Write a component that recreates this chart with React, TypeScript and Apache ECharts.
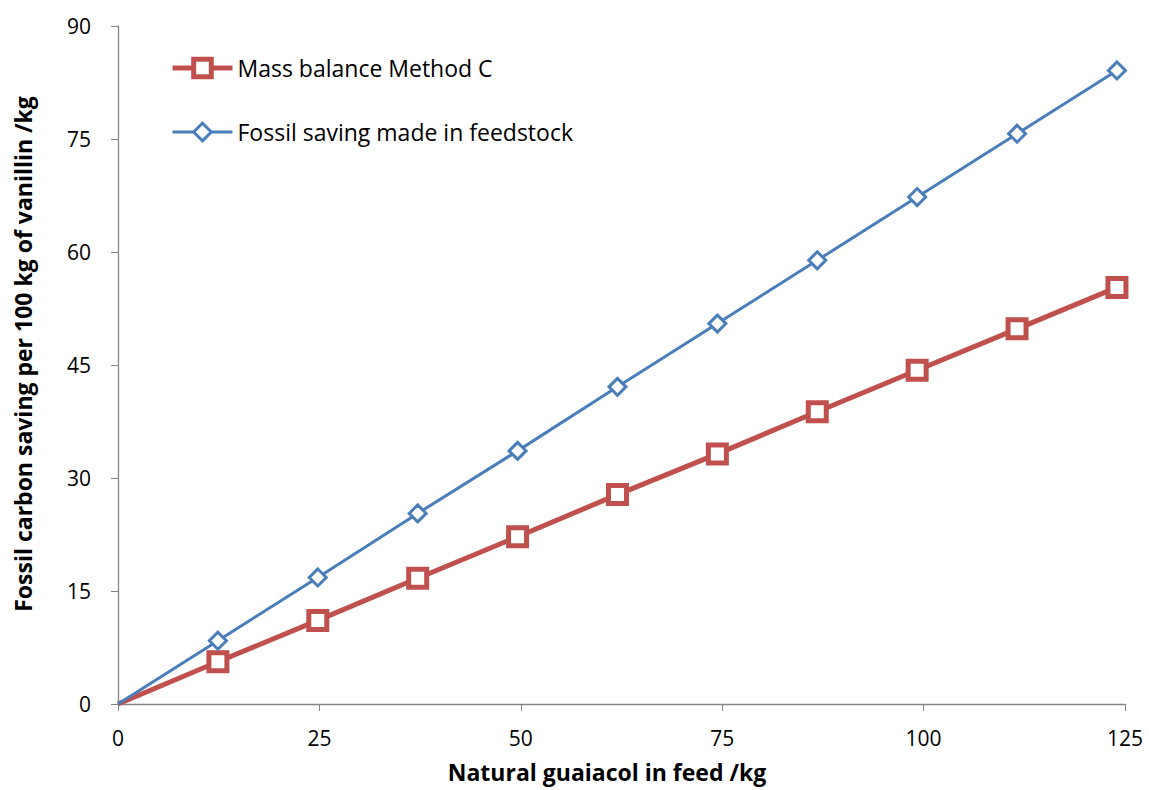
import React, { useEffect, useRef } from "react";
import * as echarts from "echarts";

const xValues = [0, 12.4, 24.8, 37.2, 49.6, 62, 74.4, 86.8, 99.2, 111.6, 124];
const massBalance = [0, 5.6, 11.1, 16.7, 22.2, 27.8, 33.2, 38.8, 44.3, 49.8, 55.3];
const fossilSaving = [0, 8.4, 16.8, 25.3, 33.6, 42.1, 50.5, 58.9, 67.3, 75.7, 84.1];
const seriesNames = ["Mass balance Method C", "Fossil saving made in feedstock"];
const xTitle = "Natural guaiacol in feed /kg";
const yTitle = "Fossil carbon saving per 100 kg of vanillin /kg";

const FONT = "Open Sans";
const RED = "#C0504D";
const BLUE = "#4A7EBB";

function toData(ys: number[]) {
  return xValues.map((x, i) =>
    x === 0 ? { value: [x, ys[i]], symbol: "none" } : { value: [x, ys[i]] }
  );
}

export default function App() {
  const ref = useRef<HTMLDivElement>(null);
  useEffect(() => {
    if (!ref.current) return;
    const chart = echarts.init(ref.current, null, { renderer: "svg" });
    const axisLine = { show: true, lineStyle: { color: "#868686", width: 1.3 } };
    chart.setOption({
      animation: false,
      backgroundColor: "#ffffff",
      grid: { left: 118, right: 24, top: 26, bottom: 86, containLabel: false },
      legend: {
        orient: "vertical",
        left: 170,
        top: 56,
        padding: 0,
        itemGap: 40,
        itemWidth: 60,
        itemHeight: 22,
        textStyle: { fontFamily: FONT, fontSize: 23, color: "#000", lineHeight: 24 },
        data: [
          {
            name: seriesNames[0],
            itemStyle: { color: "#fff", borderColor: RED, borderWidth: 5 },
            lineStyle: { color: RED, width: 5 },
          },
          {
            name: seriesNames[1],
            itemStyle: { color: "#fff", borderColor: BLUE, borderWidth: 3 },
            lineStyle: { color: BLUE, width: 3 },
          },
        ],
      },
      graphic: [
        {
          type: "text",
          x: 607,
          y: 772,
          style: {
            text: xTitle,
            font: `bold 23px "${FONT}"`,
            fill: "#000",
            align: "center",
            verticalAlign: "middle",
          },
        },
        {
          type: "text",
          x: 23,
          y: 354,
          rotation: Math.PI / 2,
          style: {
            text: yTitle,
            font: `bold 23px "${FONT}"`,
            fill: "#000",
            align: "center",
            verticalAlign: "middle",
          },
        },
      ],
      xAxis: {
        type: "value",
        min: 0,
        max: 125,
        interval: 25,
        axisLine,
        axisTick: { show: true, length: 7, lineStyle: { color: "#868686" } },
        axisLabel: { fontFamily: FONT, fontSize: 21, color: "#000", margin: 23 },
        splitLine: { show: false },
      },
      yAxis: {
        type: "value",
        min: 0,
        max: 90,
        interval: 15,
        axisLine,
        axisTick: { show: true, length: 7, lineStyle: { color: "#868686" } },
        axisLabel: { fontFamily: FONT, fontSize: 21, color: "#000", margin: 27 },
        splitLine: { show: false },
      },
      series: [
        {
          name: seriesNames[0],
          type: "line",
          data: toData(massBalance),
          color: RED,
          lineStyle: { width: 5, color: RED },
          symbol: "rect",
          symbolSize: 18,
          itemStyle: { color: "#ffffff", borderColor: RED, borderWidth: 5 },
          z: 2,
        },
        {
          name: seriesNames[1],
          type: "line",
          data: toData(fossilSaving),
          color: BLUE,
          lineStyle: { width: 3, color: BLUE },
          symbol: "diamond",
          symbolSize: 17,
          itemStyle: { color: "#ffffff", borderColor: BLUE, borderWidth: 3 },
          z: 3,
        },
      ],
    });
    return () => chart.dispose();
  }, []);
  return (
    <div
      ref={ref}
      style={{ position: "absolute", left: 0, top: 0, width: 1149, height: 790, background: "#fff" }}
    />
  );
}
